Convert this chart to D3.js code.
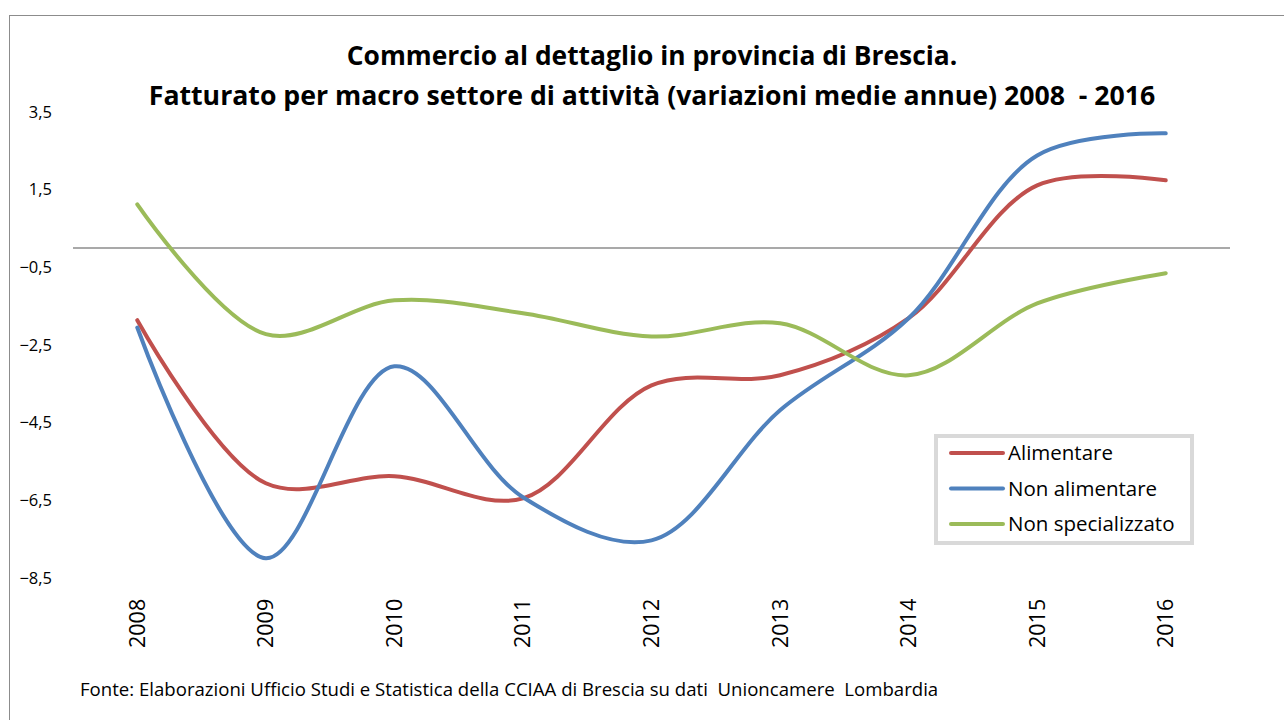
<!DOCTYPE html>
<html>
<head>
<meta charset="utf-8">
<script src="https://cdn.jsdelivr.net/npm/d3@7"></script>
<style>
  body { margin: 0; background: #fff; }
  svg { font-family: "Open Sans", Lato, sans-serif; }
  svg text { white-space: pre; }
</style>
</head>
<body>
<div id="chart"></div>
<script>
'use strict';

var years = ['2008', '2009', '2010', '2011', '2012', '2013', '2014', '2015', '2016'];
var alimentare = [-1.86, -6.06, -5.88, -6.45, -3.54, -3.28, -1.81, 1.61, 1.74];
var nonAlimentare = [-2.05, -7.99, -3.05, -6.42, -7.53, -4.18, -1.81, 2.38, 2.95];
var nonSpecializzato = [1.12, -2.22, -1.35, -1.68, -2.28, -1.94, -3.28, -1.43, -0.65];
var yTicks = [3.5, 1.5, -0.5, -2.5, -4.5, -6.5, -8.5];
var seriesNames = ['Alimentare', 'Non alimentare', 'Non specializzato'];
var seriesColors = ['#c0504d', '#4f81bd', '#9bbb59'];

var W = 1284, H = 720;
var plotLeft = 73, plotRight = 1230, plotTop = 112, plotBottom = 578;

var svg = d3.select('#chart').append('svg')
    .attr('width', W)
    .attr('height', H);

// outer frame
svg.append('rect')
    .attr('x', 9.5)
    .attr('y', 15.5)
    .attr('width', W)
    .attr('height', H)
    .attr('fill', '#fff')
    .attr('stroke', '#8c8c8c')
    .attr('stroke-width', 1);

var x = d3.scaleBand()
    .domain(years)
    .range([plotLeft, plotRight]);

var y = d3.scaleLinear()
    .domain([-8.5, 3.5])
    .range([plotBottom, plotTop]);

var fmt = function (d) { return d3.format('.1f')(d).replace('.', ','); };

// title, two centred lines
var title = svg.append('text')
    .attr('text-anchor', 'middle')
    .attr('font-weight', 'bold')
    .attr('font-size', 25)
    .attr('fill', '#000');
title.append('tspan').attr('x', 652).attr('y', 65)
    .text('Commercio al dettaglio in provincia di Brescia.');
title.append('tspan').attr('x', 652).attr('y', 105)
    .text('Fatturato per macro settore di attività (variazioni medie annue) 2008  - 2016');

// fit each title line to the width it has on the original
title.selectAll('tspan').each(function (d, i) {
  var len = this.getComputedTextLength();
  var target = i === 0 ? 611 : 1007;
  if (len > 0) {
    d3.select(this).attr('font-size', 25 * target / len);
  }
});

// y axis labels
svg.append('g')
    .selectAll('text')
    .data(yTicks)
    .enter().append('text')
    .attr('x', 52)
    .attr('y', function (d) { return y(d); })
    .attr('dy', '0.35em')
    .attr('text-anchor', 'end')
    .attr('font-size', 16.5)
    .text(fmt);

// zero line
svg.append('line')
    .attr('x1', plotLeft)
    .attr('x2', plotRight)
    .attr('y1', y(0))
    .attr('y2', y(0))
    .attr('stroke', '#8c8c8c')
    .attr('stroke-width', 1.5);

// x axis labels (rotated)
svg.append('g')
    .selectAll('text')
    .data(years)
    .enter().append('text')
    .attr('transform', function (d) {
      return 'translate(' + (x(d) + x.bandwidth() / 2) + ',648) rotate(-90)';
    })
    .attr('dy', '0.35em')
    .attr('text-anchor', 'start')
    .attr('font-size', 21.5)
    .text(function (d) { return d; });

// smoothed lines
var line = d3.line()
    .x(function (d, i) { return x(years[i]) + x.bandwidth() / 2; })
    .y(function (d) { return y(d); })
    .curve(d3.curveCatmullRom.alpha(0.5));

var allSeries = [alimentare, nonAlimentare, nonSpecializzato];

svg.append('g')
    .selectAll('path')
    .data(allSeries)
    .enter().append('path')
    .attr('d', line)
    .attr('fill', 'none')
    .attr('stroke', function (d, i) { return seriesColors[i]; })
    .attr('stroke-width', 4)
    .attr('stroke-linecap', 'round');

// legend
var legend = svg.append('g');
legend.append('rect')
    .attr('x', 936)
    .attr('y', 436)
    .attr('width', 256)
    .attr('height', 107)
    .attr('fill', '#fff')
    .attr('stroke', '#d9d9d9')
    .attr('stroke-width', 4);

var item = legend.selectAll('g.item')
    .data(seriesNames)
    .enter().append('g')
    .attr('class', 'item')
    .attr('transform', function (d, i) { return 'translate(0,' + (453 + i * 35.5) + ')'; });
item.append('line')
    .attr('x1', 951)
    .attr('x2', 1003)
    .attr('stroke', function (d, i) { return seriesColors[i]; })
    .attr('stroke-width', 4)
    .attr('stroke-linecap', 'round');
item.append('text')
    .attr('x', 1008)
    .attr('dy', '0.35em')
    .attr('font-size', 20.5)
    .text(function (d) { return d; });

// source note
svg.append('text')
    .attr('x', 80)
    .attr('y', 696)
    .attr('font-size', 18.6)
    .text('Fonte: Elaborazioni Ufficio Studi e Statistica della CCIAA di Brescia su dati  Unioncamere  Lombardia');
</script>
</body>
</html>
